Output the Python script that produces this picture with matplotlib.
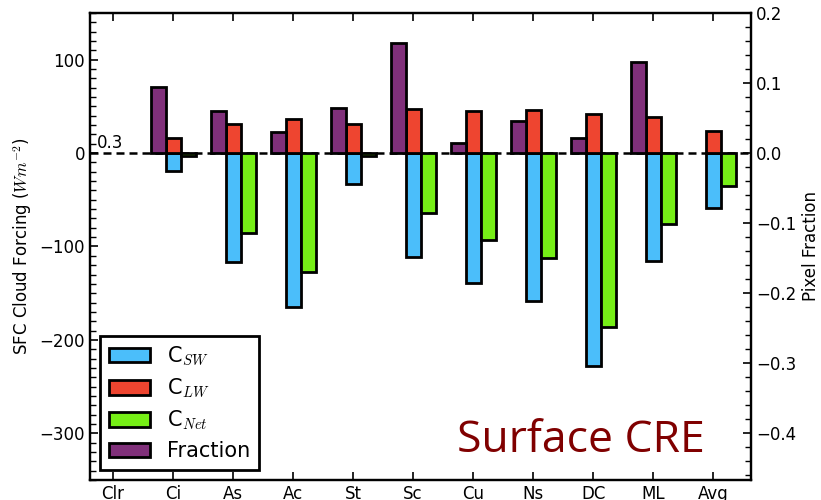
import matplotlib
matplotlib.use("Agg")
import matplotlib.pyplot as plt
from matplotlib.ticker import MultipleLocator
from matplotlib.patches import Rectangle
import numpy as np

plt.rcParams['mathtext.fontset'] = 'cm'
plt.rcParams['font.family'] = ['DejaVu Sans']

categories = ["Clr", "Ci", "As", "Ac", "St", "Sc", "Cu", "Ns", "DC", "ML", "Avg"]
c_sw = [0, -19, -116.5, -164.7, -33.5, -111, -138.6, -158, -228, -115.4, -59.3]
c_lw = [0, 16, 31, 37, 30.7, 46.8, 45, 46, 41.8, 39, 23.6]
c_net = [0, -3.5, -85.4, -127.5, -3, -64.5, -93, -112, -186, -76.2, -35.5]
fraction = [0, 0.094, 0.060, 0.0295, 0.065, 0.1576, 0.0138, 0.046, 0.0219, 0.130, 0]
clear_fraction_label = "0.3"

col_sw = "#4bbefa"
col_lw = "#ee4530"
col_net = "#76ef16"
col_frac = "#80307a"

fig = plt.figure(figsize=(8.21, 5.0), dpi=100)
ax = fig.add_axes([90 / 821, 20 / 500, 661 / 821, 467 / 500])
ax2 = ax.twinx()

x = np.arange(len(categories))
w = 0.25
edge = dict(edgecolor="black", linewidth=2)

b_sw = ax.bar(x, c_sw, w, color=col_sw, **edge, zorder=3)
b_lw = ax.bar(x, c_lw, w, color=col_lw, **edge, zorder=3)
b_net = ax.bar(x + w, c_net, w, color=col_net, **edge, zorder=3)
b_fr = ax2.bar(x - w, fraction, w, color=col_frac, **edge, zorder=3)

# categories without data get no bar
for bars, vals in ((b_sw, c_sw), (b_lw, c_lw), (b_net, c_net), (b_fr, fraction)):
    for b, v in zip(bars, vals):
        if v == 0:
            b.set_visible(False)

ax.axhline(0, color="black", linestyle=(0, (3.2, 2.0)), linewidth=1.8, zorder=2)

ax.set_xlim(-0.385, 10.63)
ax.set_ylim(-350, 150)
ax2.set_ylim(-350 / 750, 150 / 750)

ax.set_xticks(x)
ax.set_xticklabels(categories, fontsize=12)
ax.yaxis.set_major_locator(MultipleLocator(100))
ax.yaxis.set_minor_locator(MultipleLocator(10))
ax2.yaxis.set_major_locator(MultipleLocator(0.1))
ax2.yaxis.set_minor_locator(MultipleLocator(0.02))

ax.tick_params(axis="x", which="major", direction="in", length=6, width=1.2,
               labelsize=12, top=True, bottom=True)
ax.tick_params(axis="y", which="major", direction="in", length=6, width=1.2,
               labelsize=12, left=True, right=False)
ax.tick_params(axis="y", which="minor", direction="in", length=4, width=1,
               left=True, right=False)
ax.tick_params(axis="x", which="minor", bottom=False, top=False)
ax2.tick_params(axis="y", which="major", direction="in", length=6, width=1.2,
                labelsize=12, left=False, right=True)
ax2.tick_params(axis="y", which="minor", direction="in", length=4, width=1,
                left=False, right=True)

for a in (ax, ax2):
    for s in a.spines.values():
        s.set_linewidth(1.6)

ax.set_ylabel(r"SFC Cloud Forcing ($Wm^{-2}$)", fontsize=12)
ax2.set_ylabel("Pixel Fraction", fontsize=12)

ax.text(-0.27, 5, clear_fraction_label, fontsize=12, ha="left", va="baseline", zorder=4)

ax.text(5.73, -320, "Surface CRE", fontsize=32, color="#800000",
        family="Open Sans", ha="left", va="baseline", zorder=4)

handles = [Rectangle((0, 0), 1, 1, facecolor=c, edgecolor="black", linewidth=2)
           for c in (col_sw, col_lw, col_net, col_frac)]
leg = ax2.legend(handles,
                 [r"C$_{SW}$", r"C$_{LW}$", r"C$_{Net}$", "Fraction"],
                 loc="lower left", fontsize=15, fancybox=False, framealpha=1,
                 edgecolor="black", handlelength=2.0, labelspacing=0.42)
leg.get_frame().set_linewidth(2)
leg.set_zorder(10)

fig.savefig("out.png", dpi=100)
